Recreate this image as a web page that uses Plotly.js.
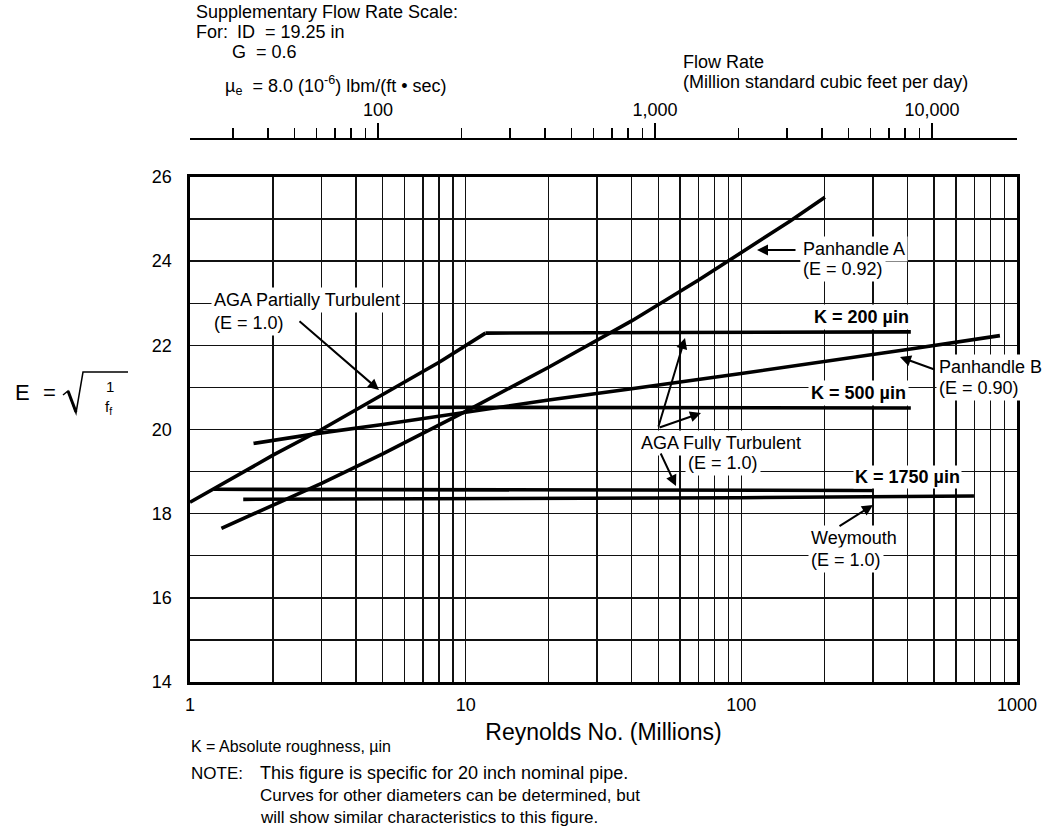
<!DOCTYPE html>
<html><head><meta charset="utf-8">
<script src="https://cdn.plot.ly/plotly-3.0.1.min.js"></script>
<style>html,body{margin:0;padding:0;background:#fff;} #chart{width:1049px;height:829px;}</style>
</head><body><div id="chart"></div>
<script>
// ---------- data ----------
const reynoldsTickVals = [1, 10, 100, 1000];
const reynoldsTickText = ['1', '10', '100', '1000'];
const reynoldsMinorVals = [2,3,4,5,6,7,8,9,20,30,40,50,60,70,80,90,200,300,400,500,600,700,800,900];
const eTickVals = [14, 16, 18, 20, 22, 24, 26];
const flowTickVals = [100, 1000, 10000];
const flowTickText = ['100', '1,000', '10,000'];
const flowMinorVals = [30,40,50,60,70,80,90,200,300,400,500,600,700,800,900,2000,3000,4000,5000,6000,7000,8000,9000];

// AGA partially turbulent (E = 1.0)
const agaPartialRe = [1, 2, 3, 5, 8.07, 11.8];
const agaPartialE  = [18.27, 19.39, 20.0, 20.82, 21.61, 22.29];
// AGA fully turbulent, K = 200 µin
const k200Re = [11.8, 412];
const k200E  = [22.29, 22.32];
// AGA fully turbulent, K = 500 µin
const k500Re = [4.4, 412];
const k500E  = [20.53, 20.51];
// AGA fully turbulent, K = 1750 µin
const k1750Re = [1.22, 299];
const k1750E  = [18.58, 18.55];
// Weymouth (E = 1.0)
const weymouthRe = [1.56, 100, 698];
const weymouthE  = [18.34, 18.38, 18.42];
// Panhandle A (E = 0.92)
const panARe = [1.3, 2, 3, 5, 10, 20, 40, 70, 100, 150, 201];
const panAE  = [17.65, 18.2, 18.72, 19.42, 20.43, 21.48, 22.58, 23.55, 24.2, 24.95, 25.52];
// Panhandle B (E = 0.90)
const panBRe = [1.7, 3, 5, 10, 20, 40, 100, 400, 867];
const panBE  = [19.67, 19.92, 20.12, 20.42, 20.7, 20.97, 21.33, 21.9, 22.23];

// ---------- geometry ----------
const FONT = 'Liberation Sans, Arial, Helvetica, sans-serif';
const W = 1049, H = 829;
const plotL = 190, plotR = 1017, paperTop = 138, plotTop = 177, plotBot = 682;
const paperH = plotBot - paperTop, paperW = plotR - plotL;
const PX = x => (x - plotL) / paperW;
const PY = y => (plotBot - y) / paperH;

function line(x, y) {
  return {x: x, y: y, type: 'scatter', mode: 'lines', line: {color: '#000', width: 3.6},
          hoverinfo: 'skip', showlegend: false};
}
const traces = [
  line(agaPartialRe, agaPartialE),
  line(k200Re, k200E),
  line(k500Re, k500E),
  line(k1750Re, k1750E),
  line(weymouthRe, weymouthE),
  line(panARe, panAE),
  line(panBRe, panBE),
  {x: flowTickVals, y: flowTickVals.map(() => null), xaxis: 'x2', yaxis: 'y', type: 'scatter', mode: 'markers',
   marker: {opacity: 0}, hoverinfo: 'skip', showlegend: false}
];

function txt(text, x, y, o) {
  o = o || {};
  return {xref: 'paper', yref: 'paper', x: PX(x), y: PY(y), xanchor: o.anchor || 'left', yanchor: 'middle',
          text: text, showarrow: false, align: 'left',
          font: {family: FONT, size: o.size || 18, color: '#000'},
          bgcolor: o.bg ? '#fff' : 'rgba(0,0,0,0)', borderpad: o.pad === undefined ? 2 : o.pad};
}
function arrow(hx, hy, tx, ty) {
  return {xref: 'paper', yref: 'paper', x: PX(hx), y: PY(hy), ax: tx - hx, ay: ty - hy,
          axref: 'pixel', ayref: 'pixel', text: '', showarrow: true,
          arrowhead: 2, arrowsize: 1.1, arrowwidth: 2, arrowcolor: '#000', standoff: 0, startstandoff: 0};
}

const annotations = [
  // top block
  txt('Supplementary Flow Rate Scale:', 193, 12),
  txt('For:', 193, 32),
  txt('ID\u00a0 = 19.25 in', 234, 32),
  txt('G\u00a0 = 0.6', 229, 52),
  txt('\u00b5<sub>e</sub>\u00a0 = 8.0 (10<sup>-6</sup>) lbm/(ft \u2022 sec)', 222, 86),
  txt('Flow Rate', 680, 62),
  txt('(Million standard cubic feet per day)', 680, 82),
  // curve labels
  txt('AGA Partially Turbulent', 211, 300, {bg: true}),
  txt('(E = 1.0)', 211, 323, {bg: true}),
  txt('Panhandle A', 800, 249, {bg: true}),
  txt('(E = 0.92)', 800, 269, {bg: true}),
  txt('<b>K = 200 \u00b5in</b>', 912, 317, {bg: true, anchor: 'right'}),
  txt('Panhandle B', 936, 367, {bg: true}),
  txt('(E = 0.90)', 936, 388, {bg: true}),
  txt('<b>K = 500 \u00b5in</b>', 909, 393, {bg: true, anchor: 'right'}),
  txt('AGA Fully Turbulent', 638, 443, {bg: true}),
  txt('(E = 1.0)', 685, 463, {bg: true}),
  txt('<b>K = 1750 \u00b5in</b>', 853, 477, {bg: true, pad: 1}),
  txt('Weymouth', 808, 538, {bg: true}),
  txt('(E = 1.0)', 808, 560, {bg: true}),
  // arrows
  arrow(379, 390, 298, 320),
  arrow(757, 250, 797, 250),
  arrow(900, 357, 936, 370),
  arrow(685, 338, 658, 428),
  arrow(701, 413, 658, 428),
  arrow(676, 486, 660, 452),
  arrow(873, 505, 838, 527),
  // y-axis quantity
  txt('E', 12, 392, {size: 22}),
  txt('=', 40, 392, {size: 22}),
  txt('1', 110, 386, {size: 15, anchor: 'center'}),
  txt('f<sub>f</sub>', 108, 407, {size: 15, anchor: 'center'}),
  // bottom notes
  txt('K = Absolute roughness, \u00b5in', 188, 746, {size: 16}),
  txt('NOTE:', 188, 773, {size: 17}),
  txt('This figure is specific for 20 inch nominal pipe.', 257, 773, {size: 18}),
  txt('Curves for other diameters can be determined, but', 257, 795, {size: 17}),
  txt('will show similar characteristics to this figure.', 257, 817, {size: 17})
];

const shapes = [
  {type: 'path', xref: 'paper', yref: 'paper',
   path: 'M' + PX(63) + ',' + PY(395) + ' L' + PX(68) + ',' + PY(391) + ' L' + PX(76) + ',' + PY(413) +
         ' L' + PX(83) + ',' + PY(372) + ' L' + PX(128) + ',' + PY(372),
   line: {color: '#000', width: 1.5}},
  {type: 'line', xref: 'paper', yref: 'paper', x0: PX(68), y0: PY(391), x1: PX(76), y1: PY(412),
   line: {color: '#000', width: 3}}
];

const layout = {
  width: W, height: H,
  margin: {l: plotL, r: W - plotR, t: paperTop, b: H - plotBot, pad: 0},
  paper_bgcolor: '#fff', plot_bgcolor: '#fff',
  font: {family: FONT, color: '#000', size: 18},
  showlegend: false,
  xaxis: {type: 'log', range: [0, 3], anchor: 'y', tickmode: 'array', tickvals: reynoldsTickVals, ticktext: reynoldsTickText,
          ticks: 'outside', ticklen: 5, tickcolor: 'rgba(0,0,0,0)', tickfont: {size: 18},
          showgrid: true, gridcolor: '#111', gridwidth: 1.6,
          minor: {tickmode: 'array', tickvals: reynoldsMinorVals, showgrid: true, gridcolor: '#111', gridwidth: 1.4, ticks: ''},
          showline: true, linecolor: '#000', linewidth: 2.6, mirror: true, zeroline: false,
          title: {text: 'Reynolds No. (Millions)', font: {size: 23}, standoff: 10}, fixedrange: true},
  xaxis2: {type: 'log', overlaying: 'x', side: 'top', anchor: 'free', position: 1,
           range: [2 - 188 / 277, 2 - 188 / 277 + paperW / 277],
           tickmode: 'array', tickvals: flowTickVals, ticktext: flowTickText,
           ticks: 'outside', ticklen: 15, tickwidth: 1.5, tickcolor: '#000', tickfont: {size: 18},
           showline: true, linecolor: '#000', linewidth: 1.5, showgrid: false, zeroline: false,
           minor: {tickmode: 'array', tickvals: flowMinorVals, ticks: 'outside', ticklen: 10, tickwidth: 1.5, tickcolor: '#000', showgrid: false},
           fixedrange: true},
  yaxis: {range: [14, 26], domain: [0, (plotBot - plotTop) / paperH], tickmode: 'array', tickvals: eTickVals,
          ticks: 'outside', ticklen: 12, tickcolor: 'rgba(0,0,0,0)', tickfont: {size: 18},
          showgrid: true, gridcolor: '#111', gridwidth: 1.6,
          minor: {tickmode: 'linear', tick0: 14, dtick: 1, showgrid: true, gridcolor: '#111', gridwidth: 1.4, ticks: ''},
          showline: true, linecolor: '#000', linewidth: 2.6, mirror: true, zeroline: false, fixedrange: true},
  annotations: annotations,
  shapes: shapes
};

Plotly.newPlot('chart', traces, layout, {displayModeBar: false, staticPlot: true});
</script>
</body></html>
